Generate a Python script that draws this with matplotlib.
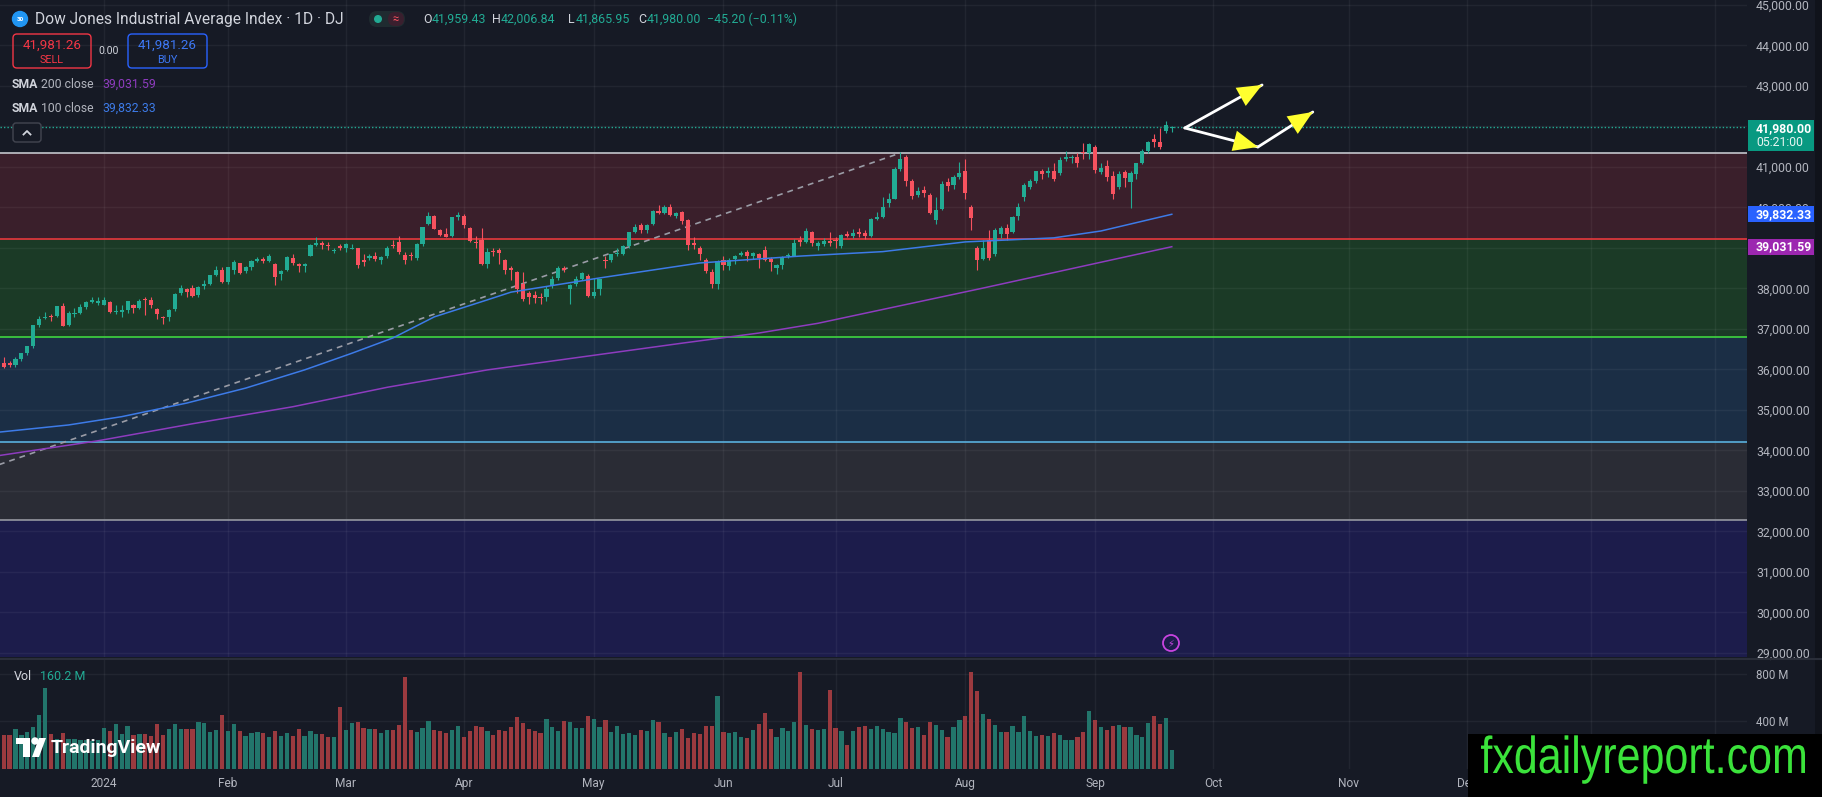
import numpy as np
import matplotlib
matplotlib.use("Agg")
import matplotlib.pyplot as plt
from matplotlib.patches import Rectangle, FancyBboxPatch, Circle, Polygon, PathPatch
from matplotlib.textpath import TextPath
from matplotlib.font_manager import FontProperties
from matplotlib.transforms import Affine2D

plt.rcParams['font.family'] = ['Roboto', 'DejaVu Sans']

# Dow Jones daily bars, 5 Dec 2023 .. 20 Sep 2024, one entry per trading day
opens = [
    # Dec 2023
    36200, 36160, 36150, 36100, 36250, 36400, 36570, 37100, 37270, 37320, 37310, 37560, 37100, 37370, 37390, 37540, 37660, 37650,
    # Jan
    37600, 37660, 37420, 37420, 37460, 37600, 37530, 37750, 37710, 37500, 37300, 37290, 37500, 37900, 37990, 38000, 37850, 38050, 38100, 38330, 38460,
    # Feb
    38170, 38450, 38620, 38420, 38520, 38680, 38740, 38680, 38600, 38360, 38460, 38750, 38600, 38560, 38800, 39080, 39130, 39080, 38930, 39050,
    # Mar
    39000, 38980, 38990, 38700, 38750, 38800, 38700, 38800, 39080, 39150, 38830, 38800, 38750, 39100, 39600, 39800, 39450, 39350, 39300, 39770,
    # Apr
    39800, 39500, 39130, 39200, 38600, 38900, 38950, 38700, 38500, 38400, 38100, 37900, 37850, 37790, 37780, 38050, 38250, 38510, 37990, 38100, 38240, 38300,
    # May
    37820, 37990, 38700, 38700, 38860, 38850, 39060, 39400, 39560, 39440, 39580, 39920, 39870, 40000, 39800, 39880, 39700, 39120, 39000, 38700, 38400, 38110,
    # Jun
    38700, 38550, 38720, 38820, 38890, 38790, 38860, 38950, 38720, 38500, 38580, 38790, 38800, 39200, 39150, 39400, 39050, 39110, 39170,
    # Jul
    39190, 39050, 39340, 39300, 39400, 39370, 39300, 39720, 39760, 40100, 40220, 40950, 41250, 40650, 40300, 40430, 40300, 39700, 39960, 40640, 40550, 40750,
    # Aug
    40900, 40000, 39000, 38720, 39200, 38850, 39350, 39500, 39400, 39780, 40250, 40500, 40650, 40900, 40840, 40900, 40850, 41200, 41230, 41240, 41350, 41350,
    # Sep
    41500, 40870, 41020, 40780, 40500, 40880, 40640, 40830, 41100, 41400, 41700, 41620, 41900, 41959.43,
]
highs = [
    36260, 36300, 36200, 36300, 36410, 36580, 37100, 37330, 37420, 37370, 37560, 37640, 37440, 37530, 37620, 37680, 37780, 37800,
    37800, 37700, 37600, 37600, 37700, 37620, 37730, 37800, 37790, 37530, 37310, 37500, 37880, 38080, 38000, 38080, 38070, 38200, 38340, 38550, 38520,
    38520, 38700, 38640, 38560, 38700, 38780, 38780, 38860, 38620, 38450, 38800, 38860, 38620, 38630, 39090, 39280, 39170, 39150, 39000, 39100,
    39120, 39110, 39000, 38850, 38850, 38900, 38800, 39050, 39200, 39300, 38900, 38900, 39130, 39520, 39890, 39820, 39480, 39500, 39770, 39890,
    39850, 39510, 39300, 39500, 39000, 39000, 39000, 38720, 38550, 38430, 38400, 37950, 37950, 37900, 38050, 38300, 38550, 38550, 38100, 38300, 38400, 38350,
    38250, 38240, 38800, 38860, 39000, 39080, 39400, 39600, 39620, 39580, 39930, 40050, 40050, 40080, 39900, 39920, 39720, 39260, 39050, 38750, 38480, 38700,
    38800, 38750, 38830, 38920, 38950, 38900, 38870, 39060, 38780, 38600, 38800, 38870, 39210, 39300, 39500, 39420, 39180, 39240, 39400,
    39260, 39340, 39420, 39480, 39490, 39440, 39730, 39900, 40260, 40350, 40990, 41376, 41300, 40700, 40500, 40520, 40350, 40250, 40650, 40720, 40800, 41130,
    41200, 40050, 39050, 39200, 39450, 39500, 39550, 39600, 39800, 40100, 40600, 40700, 40910, 40950, 40990, 41100, 41250, 41400, 41300, 41350, 41585, 41585,
    41550, 41100, 41180, 40900, 40900, 40930, 40900, 41110, 41450, 41640, 41810, 41960, 42140, 42006.84,
]
lows = [
    36070, 36040, 36050, 36060, 36200, 36350, 36530, 37060, 37240, 37200, 37300, 37080, 37080, 37300, 37380, 37490, 37650, 37580,
    37580, 37400, 37380, 37300, 37400, 37400, 37500, 37350, 37530, 37250, 37120, 37200, 37450, 37850, 37800, 37780, 37800, 37990, 38090, 38300, 38140,
    38100, 38350, 38350, 38380, 38450, 38650, 38620, 38660, 38080, 38200, 38430, 38590, 38400, 38400, 38790, 39060, 38980, 38960, 38880, 38950,
    38900, 38970, 38500, 38550, 38700, 38670, 38600, 38750, 38990, 38850, 38600, 38700, 38700, 39050, 39570, 39460, 39300, 39270, 39280, 39700,
    39500, 39150, 39000, 38580, 38500, 38800, 38600, 38350, 38200, 37900, 37700, 37620, 37650, 37620, 37700, 38000, 38220, 38400, 37610, 38050, 38200, 37800,
    37770, 37850, 38500, 38650, 38800, 38820, 39000, 39370, 39380, 39380, 39560, 39830, 39840, 39780, 39750, 39600, 38950, 38970, 38700, 38380, 38010, 37980,
    38450, 38450, 38600, 38790, 38690, 38720, 38500, 38690, 38430, 38350, 38480, 38750, 38800, 39050, 39130, 39050, 38950, 39050, 39060,
    39000, 39000, 39260, 39250, 39260, 39220, 39280, 39700, 39750, 40000, 40210, 40900, 40540, 40200, 40260, 40250, 39830, 39600, 39950, 40400, 40450, 40700,
    40200, 39450, 38450, 38700, 38700, 38800, 39250, 39200, 39380, 39700, 40150, 40450, 40600, 40700, 40750, 40650, 40800, 41150, 41100, 41000, 41200, 41200,
    40850, 40830, 40650, 40200, 40450, 40500, 39990, 40700, 41080, 41350, 41500, 41440, 41850, 41865.95,
]
closes = [
    36124, 36054, 36117, 36247, 36404, 36577, 37090, 37248, 37305, 37306, 37557, 37082, 37404, 37385, 37545, 37656, 37710, 37689,
    37715, 37430, 37440, 37466, 37683, 37525, 37696, 37711, 37593, 37361, 37267, 37469, 37863, 38001, 37905, 37806, 38049, 38109, 38333, 38467, 38150,
    38519, 38654, 38380, 38521, 38677, 38726, 38671, 38797, 38273, 38424, 38773, 38628, 38564, 38612, 39069, 39131, 39069, 39052, 38949, 38996,
    39087, 38990, 38585, 38661, 38791, 38723, 38770, 39005, 39043, 38906, 38715, 38790, 39110, 39512, 39781, 39475, 39313, 39282, 39760, 39807,
    39567, 39170, 39127, 38597, 38904, 38892, 38884, 38462, 38459, 37983, 37735, 37799, 37753, 37775, 37986, 38240, 38504, 38461, 38086, 38240, 38386, 37816,
    37903, 38226, 38676, 38852, 38884, 39056, 39388, 39513, 39432, 39558, 39908, 39869, 40004, 39807, 39873, 39671, 39065, 39070, 38853, 38442, 38112, 38686,
    38571, 38711, 38807, 38886, 38799, 38868, 38747, 38712, 38647, 38589, 38778, 38834, 39134, 39150, 39411, 39112, 39127, 39164, 39119,
    39170, 39331, 39308, 39376, 39344, 39291, 39721, 39753, 40001, 40212, 40954, 41198, 40665, 40288, 40415, 40358, 39854, 39935, 40589, 40540, 40743, 40843,
    40348, 39737, 38703, 38997, 38763, 39446, 39498, 39357, 39766, 40009, 40563, 40660, 40896, 40835, 40890, 40713, 41175, 41240, 41250, 41092, 41335, 41563,
    40937, 40975, 40756, 40345, 40830, 40737, 40861, 41097, 41394, 41622, 41606, 41503, 42025.20, 41980.00,
]
# volume in millions
volumes = [
    284, 284, 284, 334, 284, 314, 353, 453, 681, 292, 250, 306, 250, 250, 242, 242, 236, 242,
    342, 320, 375, 292, 361, 286, 292, 292, 278, 375, 286, 336, 375, 336, 336, 336, 395, 386, 314, 328, 453,
    320, 375, 320, 278, 306, 311, 300, 270, 320, 278, 300, 278, 334, 278, 320, 292, 292, 272, 270, 520,
    325, 389, 398, 342, 334, 334, 300, 328, 328, 370, 770, 328, 311, 342, 403, 328, 320, 306, 325, 361,
    270, 320, 361, 353, 320, 284, 328, 320, 353, 436, 389, 334, 320, 306, 420, 353, 320, 403, 395, 348, 348, 445,
    417, 353, 411, 314, 361, 292, 306, 286, 325, 320, 411, 398, 306, 270, 314, 334, 259, 300, 297, 361, 361, 612,
    314, 306, 314, 272, 264, 328, 375, 473, 334, 270, 342, 320, 398, 812, 370, 334, 328, 334, 667,
    342, 320, 203, 320, 353, 361, 334, 361, 334, 314, 306, 425, 398, 348, 353, 286, 395, 370, 328, 270, 353, 411,
    445, 820, 653, 464, 423, 370, 314, 314, 361, 311, 445, 320, 278, 284, 278, 300, 286, 245, 245, 270, 314, 487,
    411, 353, 328, 361, 370, 353, 353, 286, 270, 389, 445, 381, 431, 160.2,
]
assert len(opens) == len(highs) == len(lows) == len(closes) == len(volumes) == 200

# moving averages at a few bars
sma100_bars = [0, 12, 21, 32, 42, 52, 60, 67, 74, 83, 87, 102, 119, 136, 150, 164, 179, 187, 199]
sma100_vals = [34450, 34630, 34835, 35170, 35540, 35990, 36400, 36780, 37300, 37720, 37910, 38260, 38630,
               38800, 38910, 39150, 39250, 39420, 39832.33]
sma200_bars = [0, 17, 33, 50, 66, 83, 95, 116, 129, 139, 167, 199]
sma200_vals = [33870, 34240, 34660, 35080, 35560, 35990, 36230, 36650, 36900, 37140, 38010, 39031.59]

# dashed trend line and the hand-drawn arrows (bar, price)
trend_bars = [0, 153]
trend_vals = [33640, 41346]
arrows = [((201.2, 41963), (214.3, 43025)),
          ((201.2, 41963), (213.6, 41494)),
          ((213.6, 41494), (222.9, 42358))]

# horizontal zones
zone_tops = [41346, 39222, 36800, 34210, 32284]
zone_bottoms = [39222, 36800, 34210, 32284, 28000]
zone_colors = ["#3a1f2b", "#1b3a26", "#1b2e45", "#2a2c35", "#1c1c4b"]
level_colors = ["#c4c6cc", "#e8383d", "#3fd63f", "#5ab0dc", "#9598a1"]

month_labels = ["2024", "Feb", "Mar", "Apr", "May", "Jun", "Jul", "Aug", "Sep", "Oct", "Nov", "Dec"]
month_bars = [18, 39, 59, 79, 101, 123, 142, 164, 186, 206, 229, 249]
extra_grid_bars = [270, 291]
price_ticks = list(range(29000, 45001, 1000))

BG = "#161a25"
UP = "#22ab94"
DOWN = "#f7525f"
TXT = "#d1d4dc"
AXT = "#b2b5be"
GRID = (1, 1, 1, 0.05)

W, H, DPI = 1822, 797, 100
fig = plt.figure(figsize=(W / DPI, H / DPI), dpi=DPI, facecolor=BG)


def frame(x0, y0, x1, y1):
    return [x0 / W, 1 - y1 / H, (x1 - x0) / W, (y1 - y0) / H]


ax = fig.add_axes(frame(0, 0, 1747, 657), facecolor=BG)
vax = fig.add_axes(frame(0, 660, 1747, 769), facecolor=BG)
for a in (ax, vax):
    for s in a.spines.values():
        s.set_visible(False)
    a.set_xlim(0.373, 296.5)
    for b in month_bars + extra_grid_bars:
        a.axvline(b, color=GRID, lw=1, zorder=0.6)

ax.set_ylim(28901, 45123)

# zones
for top, bot, col in zip(zone_tops, zone_bottoms, zone_colors):
    ax.axhspan(bot, top, color=col, lw=0, zorder=0.2)
for p in price_ticks:
    ax.axhline(p, color=GRID, lw=1, zorder=0.6)
for lev, col in zip(zone_tops, level_colors):
    ax.axhline(lev, color=col, lw=1.2, zorder=1)

ax.plot(trend_bars, trend_vals, color="#9a9ca6", lw=1.2, ls=(0, (3.5, 3)), zorder=2)

# candles
o = np.array(opens, float)
h = np.array(highs, float)
l = np.array(lows, float)
c = np.array(closes, float)
bars = np.arange(len(c))
up = c >= o
cols = np.where(up, UP, DOWN)
ax.vlines(bars, l, h, colors=cols, lw=0.8, zorder=4)
ax.bar(bars, np.maximum(np.abs(c - o), 25), width=0.7, bottom=np.minimum(o, c),
       color=cols, lw=0, zorder=5)

ax.plot(sma100_bars, sma100_vals, color="#3d7be8", lw=1.1, zorder=6)
ax.plot(sma200_bars, sma200_vals, color="#8e3cbf", lw=1.1, zorder=6)
ax.axhline(c[-1], color=UP, lw=1, ls=(0, (1, 1.5)), zorder=3)

for (x0, y0), (x1, y1) in arrows:
    ax.plot([x0, x1], [y0, y1], color="white", lw=2, solid_capstyle="round", zorder=8)
    ax.annotate("", xy=(x1, y1), xytext=(x0, y0),
                arrowprops=dict(arrowstyle="-|>,head_length=0.8,head_width=0.34", mutation_scale=22,
                                fc="#ffff2e", ec="#ffff2e", lw=0, shrinkA=0, shrinkB=0), zorder=9)

ax.set_xticks([])
ax.yaxis.tick_right()
ax.set_yticks(price_ticks)
ax.set_yticklabels([f"{p:,.2f}" for p in price_ticks])
ax.tick_params(axis="y", length=0, pad=6.5, labelsize=8.8, labelcolor=AXT)

# volume pane
vax.bar(bars, volumes, width=0.72, color=np.where(up, "#22756b", "#9b3a3f"), lw=0, zorder=2)
vax.set_ylim(0, 917)
for v in (400, 800):
    vax.axhline(v, color=GRID, lw=1, zorder=0.6)
vax.yaxis.tick_right()
vax.set_yticks([400, 800])
vax.set_yticklabels(["400 M", "800 M"])
vax.tick_params(axis="y", length=0, pad=6.5, labelsize=8.3, labelcolor=AXT)
vax.set_xticks(month_bars)
vax.set_xticklabels(month_labels)
vax.tick_params(axis="x", length=0, pad=6, labelsize=8.6, labelcolor=AXT)


def py(price):
    return H - ax.transData.transform((0, price))[1]


# overlay in pixel coordinates for the chart chrome
ov = fig.add_axes([0, 0, 1, 1], facecolor="none", zorder=10)
ov.set_xlim(0, W)
ov.set_ylim(H, 0)
ov.axis("off")

ov.plot([0, W], [658.5, 658.5], color="#2a2e39", lw=1.5)
ov.add_patch(Rectangle((1815, 0), 7, H, color="#10131b", lw=0))

# last value labels on the price scale
ov.add_patch(Rectangle((1748, py(c[-1]) - 7.5), 66, 31, color="#089981", lw=0))
ov.text(1756, py(c[-1]) + 1, f"{c[-1]:,.2f}", color="white", fontsize=8.8, weight="bold", va="center")
ov.text(1756, py(c[-1]) + 15.5, "05:21:00", color="#e8f5f2", fontsize=8.8, va="center")
for val, col in ((sma100_vals[-1], "#2962ff"), (sma200_vals[-1], "#9c27b0")):
    ov.add_patch(Rectangle((1748, py(val) - 8), 66, 16, color=col, lw=0))
    ov.text(1756, py(val), f"{val:,.2f}", color="white", fontsize=8.8, weight="bold", va="center")

# legend header
ov.add_patch(Circle((20, 19), 7.5, color="#2196f3"))
ov.text(20, 19.5, "30", color="white", fontsize=4.6, weight="bold", ha="center", va="center")
ov.text(35, 19, "Dow Jones Industrial Average Index · 1D · DJ", color=TXT, fontsize=11.2, va="center")
ov.add_patch(FancyBboxPatch((369, 11), 36, 16, boxstyle="round,pad=0,rounding_size=8", fc="#1f2b30", ec="none"))
ov.add_patch(FancyBboxPatch((388, 12), 16, 14, boxstyle="round,pad=0,rounding_size=7", fc="#3a1f2e", ec="none"))
ov.add_patch(Circle((378, 19), 3.3, color=UP))
ov.text(396, 19, "≈", color=DOWN, fontsize=8, ha="center", va="center")

change = c[-1] - c[-2]
pct = change / c[-2] * 100
ohlc = [("O", 423, TXT), (f"{o[-1]:,.2f}", 432, UP), ("H", 492, TXT), (f"{h[-1]:,.2f}", 501, UP),
        ("L", 568, TXT), (f"{l[-1]:,.2f}", 576, UP), ("C", 638, TXT), (f"{c[-1]:,.2f}", 647, UP),
        (f"{change:+.2f} ({pct:+.2f}%)".replace("-", "−"), 707, UP)]
for s, x, col in ohlc:
    ov.text(x, 19, s, color=col, fontsize=8.9, va="center")

sell_price = 41981.26
buy_price = 41981.26
ov.add_patch(FancyBboxPatch((13, 34), 78, 34, boxstyle="round,pad=0,rounding_size=4", fc="none", ec="#f23645", lw=1))
ov.text(52, 45, f"{sell_price:,.2f}", color="#f23645", fontsize=9.6, ha="center", va="center")
ov.text(52, 60, "SELL", color="#f23645", fontsize=7.8, ha="center", va="center")
ov.text(109, 51, f"{buy_price - sell_price:.2f}", color=TXT, fontsize=7.6, ha="center", va="center")
ov.add_patch(FancyBboxPatch((128, 34), 79, 34, boxstyle="round,pad=0,rounding_size=4", fc="none", ec="#2962ff", lw=1))
ov.text(167, 45, f"{buy_price:,.2f}", color="#3d78f5", fontsize=9.6, ha="center", va="center")
ov.text(167, 60, "BUY", color="#3d78f5", fontsize=7.8, ha="center", va="center")

for y, n, val, col in ((84, 200, sma200_vals[-1], "#8e3cbf"), (108, 100, sma100_vals[-1], "#3d7be8")):
    ov.text(12, y, "SMA", color=TXT, fontsize=8.8, weight="bold", va="center")
    ov.text(41, y, f"{n} close", color=AXT, fontsize=8.8, va="center")
    ov.text(102, y, f"{val:,.2f}", color=col, fontsize=8.8, va="center")

ov.add_patch(FancyBboxPatch((13, 123), 28, 19, boxstyle="round,pad=0,rounding_size=3", fc=BG, ec="#434651", lw=1))
ov.plot([23.5, 27, 30.5], [134.5, 131, 134.5], color=TXT, lw=1.3)

ov.text(14, 676, "Vol", color=TXT, fontsize=9, va="center")
ov.text(40, 676, f"{volumes[-1]:.1f} M", color=UP, fontsize=9, va="center")

# lightning marker
ov.add_patch(Circle((1171, 643), 8, fc="none", ec="#c844e0", lw=1.3))
ov.text(1171, 643.5, "⚡", color="#c844e0", fontsize=7, ha="center", va="center", family="DejaVu Sans")

# TradingView watermark
ov.add_patch(Rectangle((16, 738), 14, 6, color="white", lw=0))
ov.add_patch(Rectangle((23, 744), 7, 13, color="white", lw=0))
ov.add_patch(Circle((35, 741), 3, color="white"))
ov.add_patch(Polygon([(32, 757), (39, 757), (46, 738), (39, 738)], color="white", lw=0))
ov.text(51, 748, "TradingView", color="white", fontsize=14, weight="bold", va="center")

# site watermark
ov.add_patch(Rectangle((1468, 734), 354, 63, color="black", lw=0))
tp = TextPath((0, 0), "fxdailyreport.com", size=1, prop=FontProperties(family="Liberation Sans"))
ext = tp.get_extents()
sx = 324 / ext.width
sy = 52
tr = Affine2D().scale(sx, -sy).translate(1481 - ext.x0 * sx, 773)
ov.add_patch(PathPatch(tr.transform_path(tp), color="#3be33b", lw=0))

fig.savefig("out.png", dpi=DPI, facecolor=BG)
